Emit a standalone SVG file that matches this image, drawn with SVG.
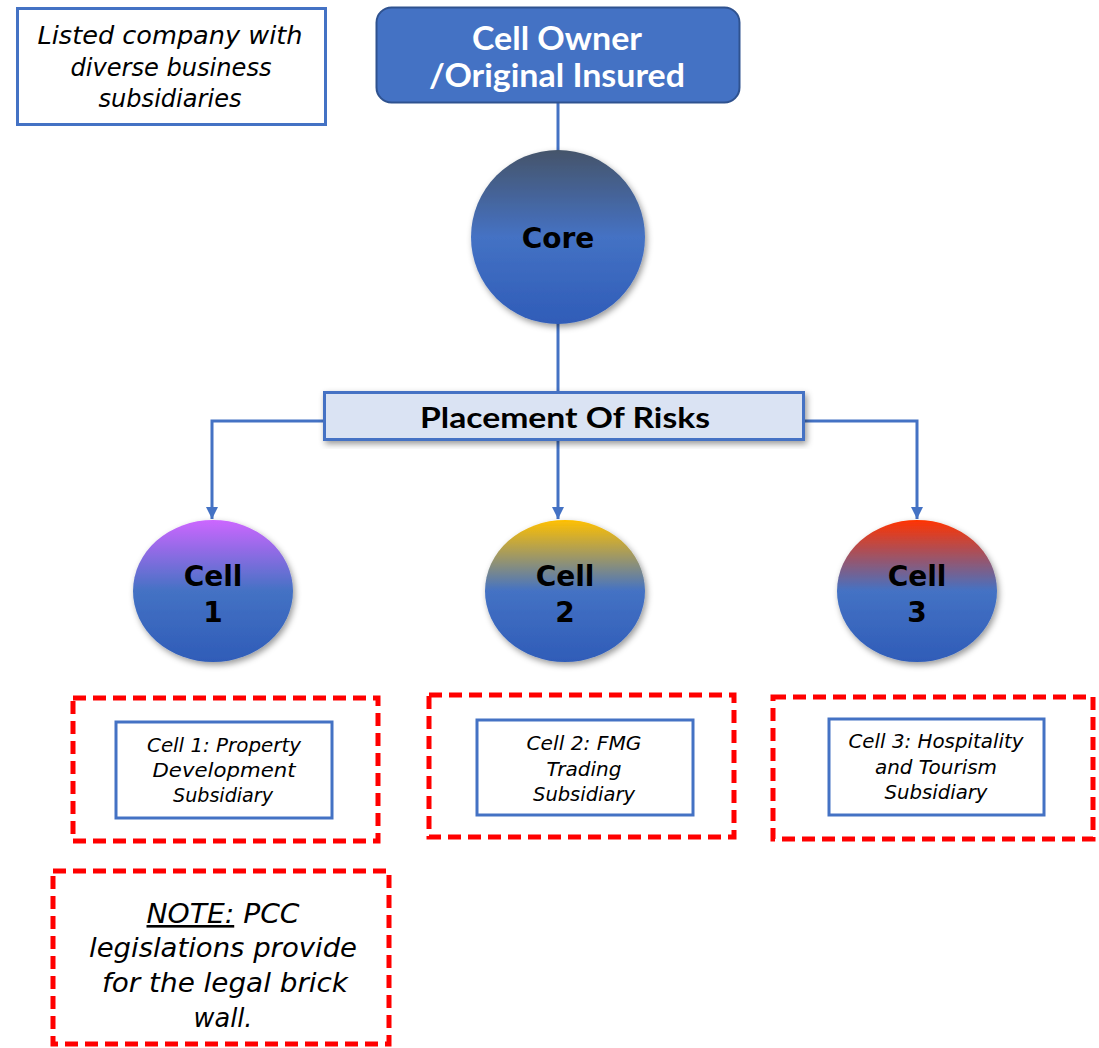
<svg xmlns="http://www.w3.org/2000/svg" width="1099" height="1048" viewBox="0 0 1099 1048">
<defs>
<style>
.it{font-family:"DejaVu Sans",sans-serif;font-style:italic;fill:#000;text-anchor:middle}
.bd{font-family:"DejaVu Sans",sans-serif;font-weight:bold;fill:#000;text-anchor:middle;font-size:28px}
.lb{font-family:Lato,sans-serif;font-weight:bold;text-anchor:middle}
.blue{fill:#fff;stroke:#4472C4;stroke-width:3}
.dash{fill:none;stroke:#FF0000;stroke-width:5;stroke-dasharray:13 7}
.conn{fill:none;stroke:#4472C4;stroke-width:3}
</style>
<filter id="sh" x="-20%" y="-20%" width="140%" height="140%">
<feDropShadow dx="2" dy="3" stdDeviation="3" flood-color="#000" flood-opacity="0.4"/>
</filter>
<linearGradient id="gCore" x1="0" y1="0" x2="0" y2="1">
<stop offset="0" stop-color="#44546A"/>
<stop offset="0.5" stop-color="#4472C4"/>
<stop offset="1" stop-color="#2F5CB8"/>
</linearGradient>
<linearGradient id="g1" x1="0" y1="0" x2="0" y2="1">
<stop offset="0" stop-color="#CC66FF"/>
<stop offset="0.5" stop-color="#4472C4"/>
<stop offset="1" stop-color="#2F5CB8"/>
</linearGradient>
<linearGradient id="g2" x1="0" y1="0" x2="0" y2="1">
<stop offset="0" stop-color="#FFC000"/>
<stop offset="0.5" stop-color="#4472C4"/>
<stop offset="1" stop-color="#2F5CB8"/>
</linearGradient>
<linearGradient id="g3" x1="0" y1="0" x2="0" y2="1">
<stop offset="0" stop-color="#FF3300"/>
<stop offset="0.5" stop-color="#4472C4"/>
<stop offset="1" stop-color="#2F5CB8"/>
</linearGradient>
<marker id="arr" viewBox="0 0 10 10" refX="10" refY="5" markerWidth="4" markerHeight="4" orient="auto" markerUnits="strokeWidth">
<path d="M0,0 L10,5 L0,10 z" fill="#4472C4"/>
</marker>
</defs>
<rect width="1099" height="1048" fill="#fff"/>

<g id="connectors">
<line class="conn" x1="558" y1="103" x2="558" y2="152"/>
<line class="conn" x1="558" y1="322" x2="558" y2="392"/>
<path class="conn" d="M324,421 H212 V519" marker-end="url(#arr)"/>
<path class="conn" d="M558,440 V519" marker-end="url(#arr)"/>
<path class="conn" d="M804,421 H917 V519" marker-end="url(#arr)"/>
</g>

<g id="listed-company">
<rect class="blue" x="17.5" y="8.5" width="308" height="116"/>
<text class="it" font-size="24" x="170" y="44" textLength="265" lengthAdjust="spacingAndGlyphs">Listed company with</text>
<text class="it" font-size="24" x="171" y="76" textLength="201" lengthAdjust="spacingAndGlyphs">diverse business</text>
<text class="it" font-size="24" x="170" y="107" textLength="143" lengthAdjust="spacingAndGlyphs">subsidiaries</text>
</g>

<g id="cell-owner">
<rect x="376.5" y="7.5" width="363" height="95" rx="15" fill="#4472C4" stroke="#2F528F" stroke-width="2"/>
<text class="lb" x="557" y="50" font-size="32" fill="#fff" textLength="170" lengthAdjust="spacingAndGlyphs">Cell Owner</text>
<text class="lb" x="557" y="87" font-size="32" fill="#fff" textLength="256" lengthAdjust="spacingAndGlyphs">/Original Insured</text>
</g>

<g id="core">
<circle cx="558" cy="237" r="87" fill="url(#gCore)" filter="url(#sh)"/>
<text class="bd" x="558" y="248">Core</text>
</g>

<g id="placement">
<rect x="324.5" y="392.5" width="479" height="47" fill="#DAE3F3" stroke="#4472C4" stroke-width="3" filter="url(#sh)"/>
<text class="lb" x="565" y="428" font-size="29" fill="#000" textLength="290" lengthAdjust="spacingAndGlyphs">Placement Of Risks</text>
</g>

<g id="cell1">
<ellipse cx="213" cy="591" rx="80" ry="71" fill="url(#g1)" filter="url(#sh)"/>
<text class="bd" x="213" y="586">Cell</text>
<text class="bd" x="213" y="622">1</text>
</g>
<g id="cell2">
<ellipse cx="565" cy="591" rx="80" ry="71" fill="url(#g2)" filter="url(#sh)"/>
<text class="bd" x="565" y="586">Cell</text>
<text class="bd" x="565" y="622">2</text>
</g>
<g id="cell3">
<ellipse cx="917" cy="591" rx="80" ry="71" fill="url(#g3)" filter="url(#sh)"/>
<text class="bd" x="917" y="586">Cell</text>
<text class="bd" x="917" y="622">3</text>
</g>

<g id="cell1-subsidiary">
<rect class="dash" x="73" y="698" width="305" height="143"/>
<rect class="blue" x="116" y="722" width="216" height="96"/>
<text class="it" font-size="19" x="224" y="752" textLength="154" lengthAdjust="spacingAndGlyphs">Cell 1: Property</text>
<text class="it" font-size="19" x="224" y="777" textLength="143" lengthAdjust="spacingAndGlyphs">Development</text>
<text class="it" font-size="19" x="223" y="802" textLength="100" lengthAdjust="spacingAndGlyphs">Subsidiary</text>
</g>

<g id="cell2-subsidiary">
<rect class="dash" x="429" y="695" width="305" height="142"/>
<rect class="blue" x="477" y="720" width="216" height="95"/>
<text class="it" font-size="19" x="584" y="750" textLength="115" lengthAdjust="spacingAndGlyphs">Cell 2: FMG</text>
<text class="it" font-size="19" x="584" y="776" textLength="75" lengthAdjust="spacingAndGlyphs">Trading</text>
<text class="it" font-size="19" x="584" y="801" textLength="102" lengthAdjust="spacingAndGlyphs">Subsidiary</text>
</g>

<g id="cell3-subsidiary">
<rect class="dash" x="773" y="697" width="320" height="142"/>
<rect class="blue" x="829" y="719" width="215" height="96"/>
<text class="it" font-size="19" x="936" y="748" textLength="175" lengthAdjust="spacingAndGlyphs">Cell 3: Hospitality</text>
<text class="it" font-size="19" x="936" y="774" textLength="122" lengthAdjust="spacingAndGlyphs">and Tourism</text>
<text class="it" font-size="19" x="936" y="799" textLength="103" lengthAdjust="spacingAndGlyphs">Subsidiary</text>
</g>

<g id="note">
<rect class="dash" x="53" y="871" width="336" height="173"/>
<text class="it" font-size="26" x="223" y="923" textLength="153" lengthAdjust="spacingAndGlyphs"><tspan text-decoration="underline">NOTE:</tspan> PCC</text>
<text class="it" font-size="26" x="223" y="957" textLength="268" lengthAdjust="spacingAndGlyphs">legislations provide</text>
<text class="it" font-size="26" x="225" y="992" textLength="246" lengthAdjust="spacingAndGlyphs">for the legal brick</text>
<text class="it" font-size="26" x="223" y="1027" textLength="59" lengthAdjust="spacingAndGlyphs">wall.</text>
</g>
</svg>
